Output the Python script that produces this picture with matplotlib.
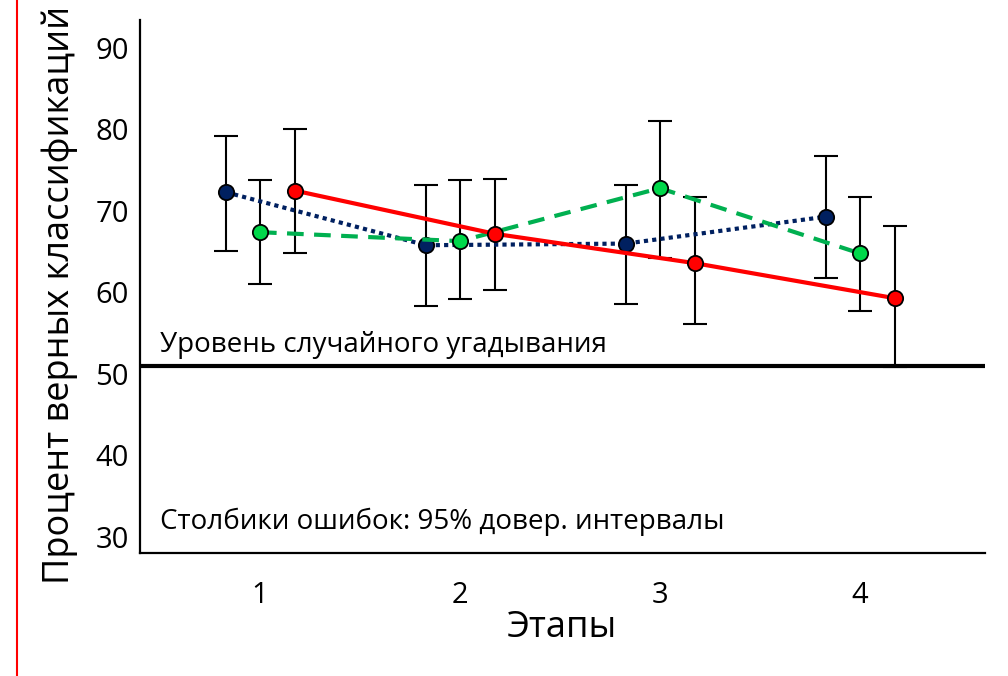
import numpy as np
import matplotlib.pyplot as plt
from matplotlib.lines import Line2D

plt.rcParams['font.family'] = ['Open Sans', 'DejaVu Sans']

# stages and group offsets
stages = [1, 2, 3, 4]
stage_labels = ['1', '2', '3', '4']
yticks = [30, 40, 50, 60, 70, 80, 90]

# three groups: mean and 95% CI bounds
navy_mean = [72.3, 65.8, 66.0, 69.3]
navy_hi = [79.2, 73.2, 73.2, 76.7]
navy_lo = [65.1, 58.4, 58.6, 61.8]

green_mean = [67.4, 66.3, 72.8, 64.8]
green_hi = [73.8, 73.8, 81.1, 71.7]
green_lo = [61.1, 59.2, 64.2, 57.7]

red_mean = [72.5, 67.2, 63.6, 59.3]
red_hi = [80.0, 73.9, 71.7, 68.1]
red_lo = [64.8, 60.3, 56.1, 50.8]

chance = 51

fig = plt.figure(figsize=(10.08, 6.76), dpi=100)
ax = fig.add_axes([0.1389, 0.182, 0.838, 0.788])

def draw(xoff, mean, lo, hi, color, mcolor, ls, lw, z):
    x = np.array(stages) + xoff
    m = np.array(mean)
    yerr = [m - np.array(lo), np.array(hi) - m]
    ax.errorbar(x, m, yerr=yerr, fmt='none', ecolor='black', elinewidth=1.5,
                capsize=8.3, capthick=1.5, zorder=2)
    ax.plot(x, m, color=color, linestyle=ls, lw=lw, zorder=z)
    ax.plot(x, m, 'o', ms=11, mfc=mcolor, mec='black', mew=1.3, zorder=z + 1)

draw(-0.17, navy_mean, navy_lo, navy_hi, '#002060', '#002060', (0, (1, 1)), 3, 3)
draw(0.0, green_mean, green_lo, green_hi, '#00B050', '#00D84A', (0, (4, 2.5)), 3, 4)
draw(0.175, red_mean, red_lo, red_hi, '#FF0000', '#FF0000', '-', 3, 5)

ax.axhline(chance, color='black', lw=3, zorder=6)

ax.set_xlim(0.4, 4.625)
ax.set_ylim(28.04, 93.4)
ax.set_xticks(stages)
ax.set_xticklabels(stage_labels)
ax.set_yticks(yticks)
ax.tick_params(length=0, labelsize=21, colors='black')
ax.tick_params(axis='x', pad=20)
ax.tick_params(axis='y', pad=8)
for s in ['top', 'right']:
    ax.spines[s].set_visible(False)
for s in ['left', 'bottom']:
    ax.spines[s].set_linewidth(1.6)

ax.text(0.5, 53.6, 'Уровень случайного угадывания', fontsize=20, va='center')
ax.text(0.5, 31.8, 'Столбики ошибок: 95% довер. интервалы', fontsize=20, va='center')

ax.set_xlabel('Этапы', fontsize=26, labelpad=0)
fig.text(60 / 1008, (676 - 584) / 676, 'Процент верных классификаций',
         fontsize=26, rotation=90, ha='center', va='bottom')

fig.add_artist(Line2D([17 / 1008, 17 / 1008], [0, 1], color='#FF0000', lw=1.5))

fig.savefig('out.png', dpi=100)
